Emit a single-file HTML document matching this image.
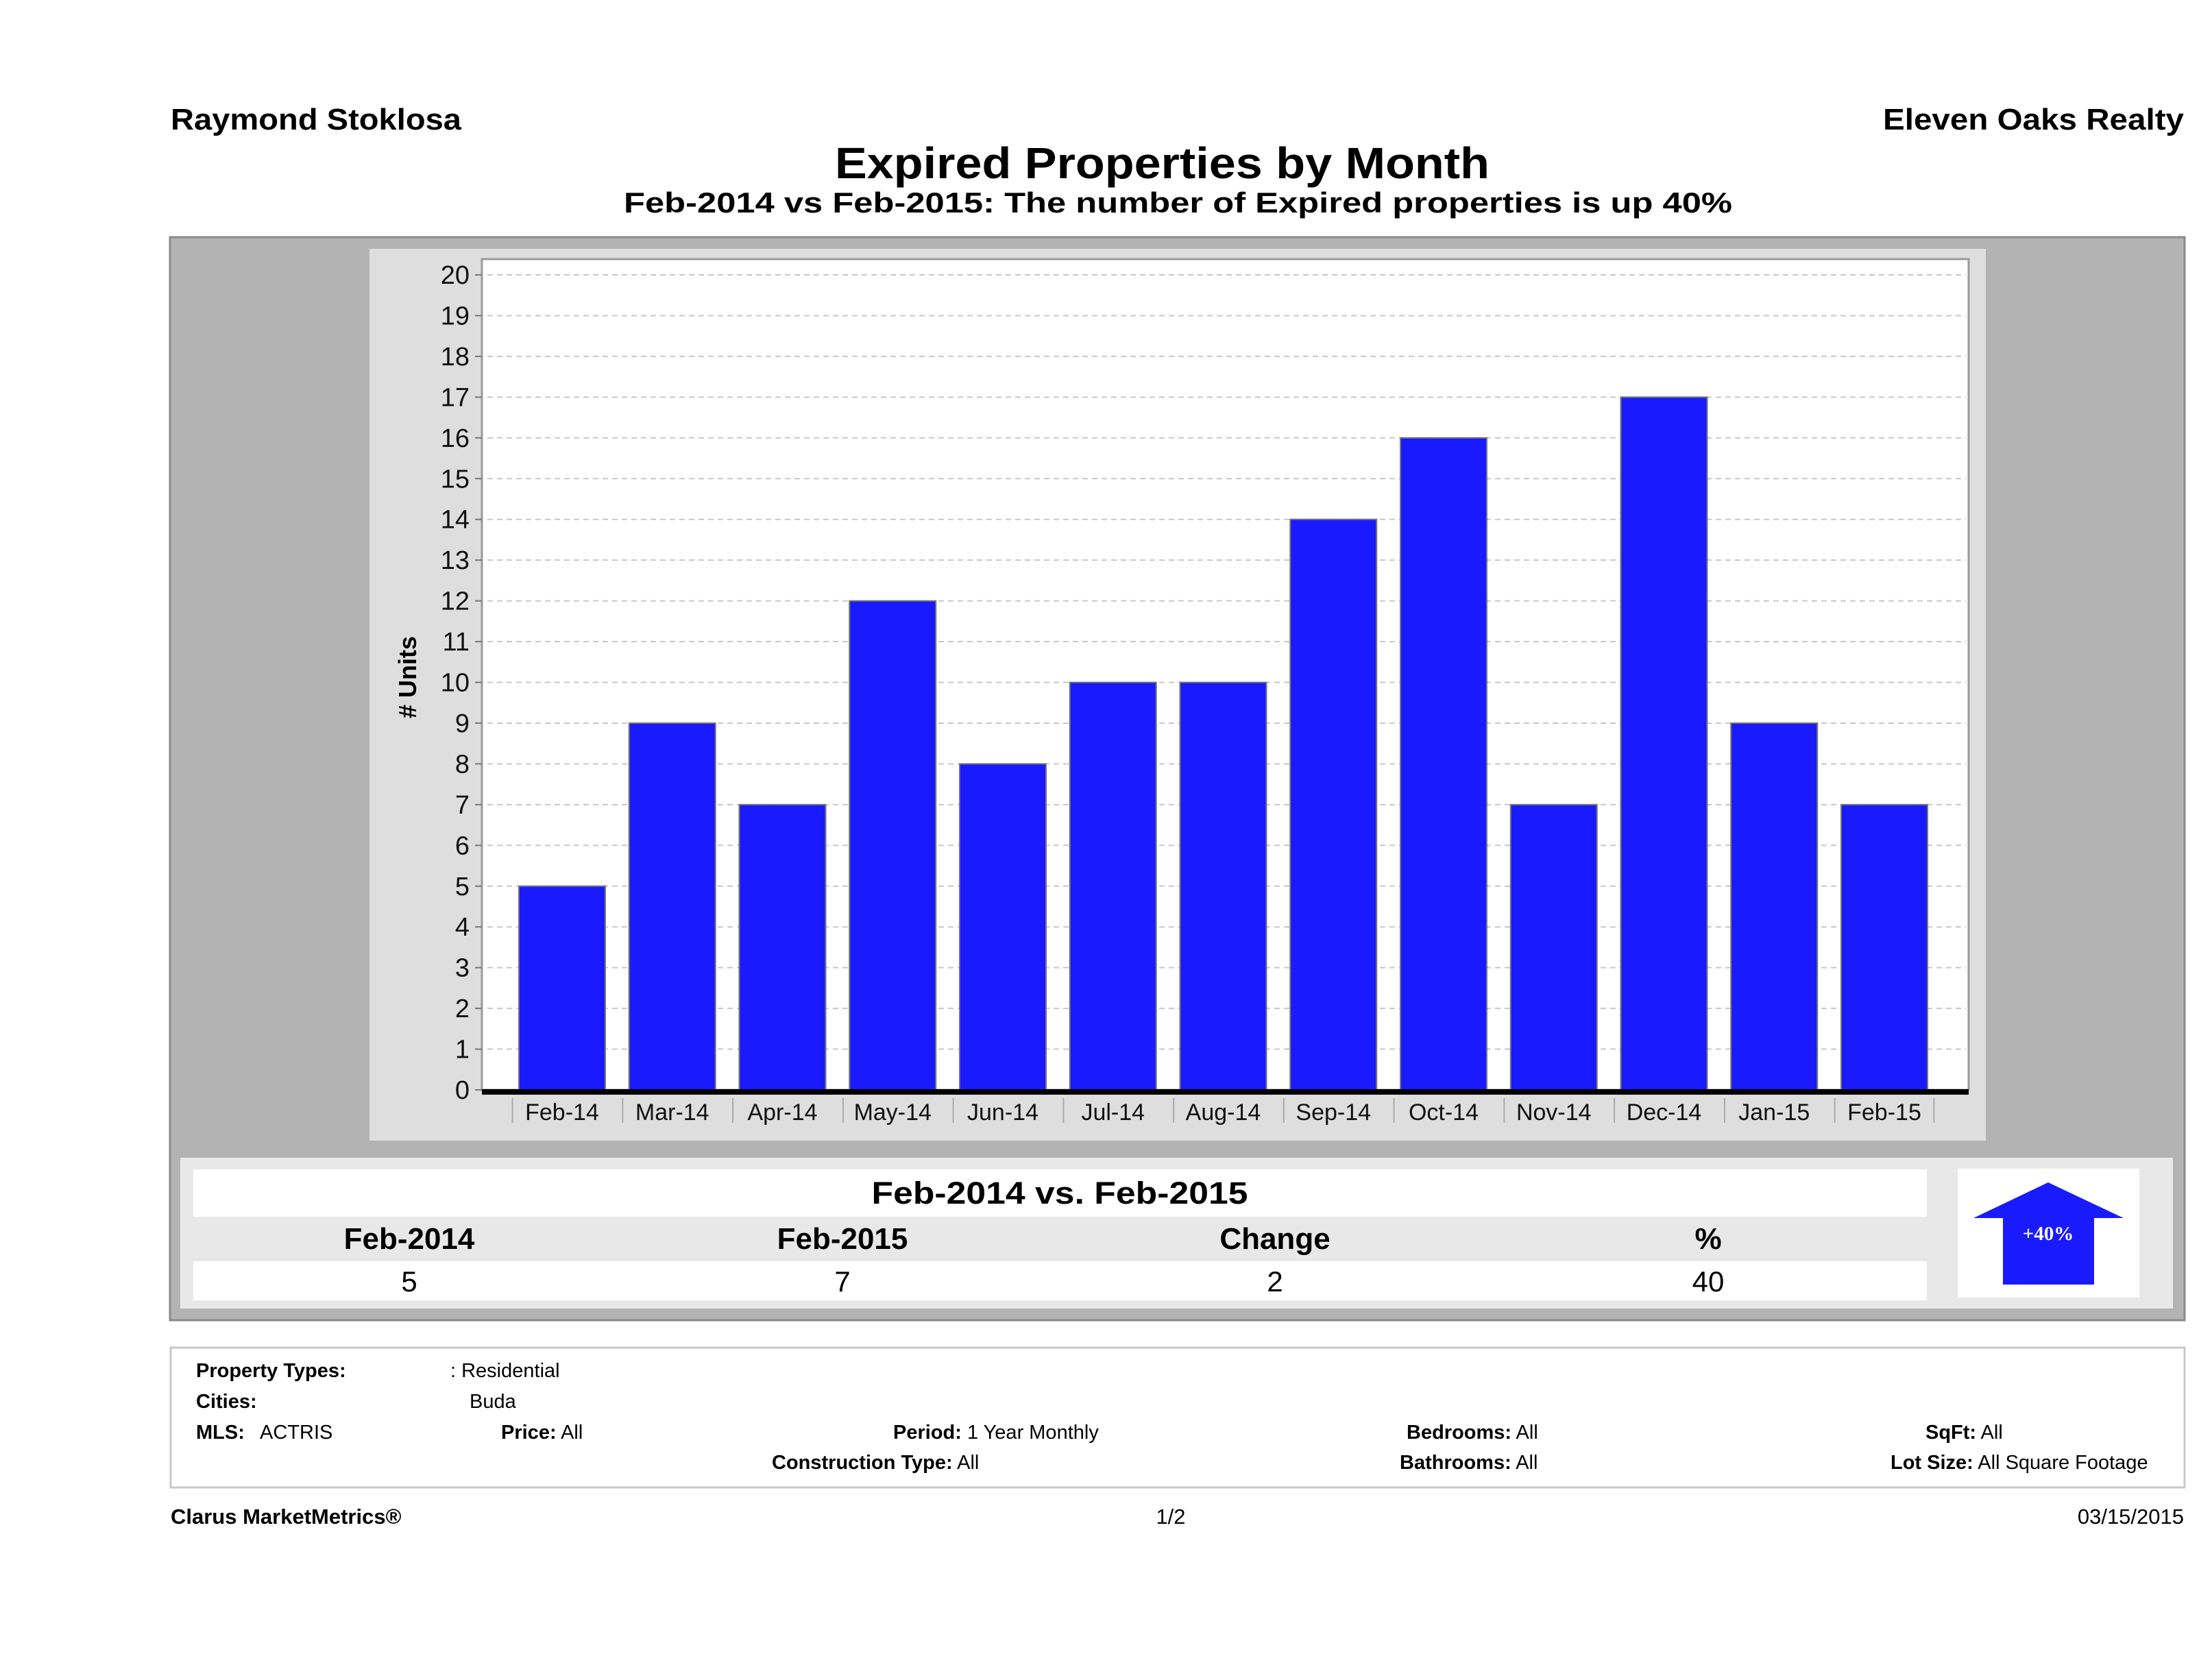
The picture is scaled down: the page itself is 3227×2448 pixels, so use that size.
<!DOCTYPE html>
<html><head><meta charset="utf-8">
<style>
html,body{margin:0;padding:0;background:#fff;}
svg{display:block;font-family:"Liberation Sans Narrow","Liberation Sans","DejaVu Sans Condensed",sans-serif;}
</style></head>
<body>
<svg id="page" width="3227" height="2448" viewBox="0 0 3227 2448" xmlns="http://www.w3.org/2000/svg">
<text x="249" y="189" font-size="44" font-weight="bold" textLength="424" lengthAdjust="spacingAndGlyphs">Raymond Stoklosa</text>
<text x="3186" y="189" font-size="44" font-weight="bold" text-anchor="end" textLength="439" lengthAdjust="spacingAndGlyphs">Eleven Oaks Realty</text>
<text x="1218" y="260" font-size="64" font-weight="bold" textLength="955" lengthAdjust="spacingAndGlyphs">Expired Properties by Month</text>
<text x="910" y="310" font-size="42" font-weight="bold" textLength="1617" lengthAdjust="spacingAndGlyphs">Feb-2014 vs Feb-2015: The number of Expired   properties is up 40%</text>

<rect x="248" y="346" width="2939" height="1580" fill="#b3b3b3" stroke="#8a8a8a" stroke-width="3"/>
<rect x="539" y="363" width="2358" height="1301" fill="#dedede"/>
<rect x="703" y="378" width="2169" height="1212" fill="#fff" stroke="#999" stroke-width="3"/>
<g id="grid"></g>
<g id="bars"></g>
<g id="yticks"></g>
<g id="xticks"></g>
<rect x="703" y="1589" width="2169" height="8" fill="#000"/>
<text transform="translate(607,988) rotate(-90)" font-size="36" font-weight="bold" text-anchor="middle">#  Units</text>

<rect x="263" y="1689" width="2907" height="220" fill="#e8e8e8"/>
<rect x="282" y="1706" width="2529" height="69" fill="#fff"/>
<rect x="282" y="1840" width="2529" height="57" fill="#fff"/>
<text x="1546" y="1756" font-size="45" font-weight="bold" text-anchor="middle" textLength="549" lengthAdjust="spacingAndGlyphs">Feb-2014 vs. Feb-2015</text>
<text x="597" y="1822" font-size="44" font-weight="bold" text-anchor="middle">Feb-2014</text>
<text x="1229" y="1822" font-size="44" font-weight="bold" text-anchor="middle">Feb-2015</text>
<text x="1860" y="1822" font-size="44" font-weight="bold" text-anchor="middle">Change</text>
<text x="2492" y="1822" font-size="44" font-weight="bold" text-anchor="middle">%</text>
<text x="597" y="1884" font-size="42" text-anchor="middle">5</text>
<text x="1229" y="1884" font-size="42" text-anchor="middle">7</text>
<text x="1860" y="1884" font-size="42" text-anchor="middle">2</text>
<text x="2492" y="1884" font-size="42" text-anchor="middle">40</text>
<rect x="2856" y="1705" width="265" height="188" fill="#fff"/>
<polygon points="2988,1725 3098,1777 3055,1777 3055,1874 2922,1874 2922,1777 2879,1777" fill="#1a1aff"/>
<text x="2988" y="1809" font-size="29" font-weight="bold" fill="#fff" text-anchor="middle" font-family="Liberation Serif,serif">+40%</text>

<rect x="249" y="1966" width="2938" height="204" fill="#fff" stroke="#c8c8c8" stroke-width="3"/>
<g font-size="29">
<text x="286" y="2009" font-weight="bold">Property Types:</text>
<text x="657" y="2009">: Residential</text>
<text x="286" y="2054" font-weight="bold">Cities:</text>
<text x="685" y="2054">Buda</text>
<text x="286" y="2099" font-weight="bold">MLS:</text>
<text x="379" y="2099">ACTRIS</text>
<text x="731" y="2099"><tspan font-weight="bold">Price:</tspan> All</text>
<text x="1303" y="2099"><tspan font-weight="bold">Period:</tspan> 1 Year Monthly</text>
<text x="1126" y="2143"><tspan font-weight="bold">Construction Type:</tspan> All</text>
<text x="2052" y="2099"><tspan font-weight="bold">Bedrooms:</tspan> All</text>
<text x="2042" y="2143"><tspan font-weight="bold">Bathrooms:</tspan> All</text>
<text x="2809" y="2099"><tspan font-weight="bold">SqFt:</tspan>  All</text>
<text x="2758" y="2143"><tspan font-weight="bold">Lot Size:</tspan>  All Square Footage</text>
</g>
<text x="249" y="2223" font-size="31" font-weight="bold">Clarus MarketMetrics®</text>
<text x="1708" y="2223" font-size="31" text-anchor="middle">1/2</text>
<text x="3186" y="2223" font-size="31" text-anchor="end">03/15/2015</text>
</svg>
<script>
const categories = ["Feb-14","Mar-14","Apr-14","May-14","Jun-14","Jul-14","Aug-14","Sep-14","Oct-14","Nov-14","Dec-14","Jan-15","Feb-15"];
const values = [5,9,7,12,8,10,10,14,16,7,17,9,7];
const yTicks = [0,1,2,3,4,5,6,7,8,9,10,11,12,13,14,15,16,17,18,19,20];

const NS = "http://www.w3.org/2000/svg";
const plotL = 703, plotR = 2872, y0px = 1590, y20px = 401, yMax = 20;
const firstC = 820, step = 160.75, barW = 126;
function yScale(v){ return y0px - (y0px - y20px) * v / yMax; }
function xScale(i){ return firstC + i * step; }
function mk(tag, attrs, parent){
  const el = document.createElementNS(NS, tag);
  for (const k in attrs) el.setAttribute(k, attrs[k]);
  parent.appendChild(el);
  return el;
}
const grid = document.getElementById('grid');
const yt = document.getElementById('yticks');
yTicks.forEach(t => {
  const y = yScale(t);
  if (t > 0) {
    const g = mk('line', {x1: plotL + 8, x2: plotR - 4, y1: y, y2: y, stroke: '#c8c8c8', 'stroke-width': 2, 'stroke-dasharray': '8,6'}, grid);
    
    
  }
  const tk = mk('line', {x1: plotL - 10, x2: plotL, y1: y, y2: y, stroke: '#777', 'stroke-width': 2}, yt);
  
  
  const lb = mk('text', {x: 685, y: y + 13, 'font-size': 38, 'text-anchor': 'end', fill: '#111'}, yt);
  lb.textContent = t;
  
  
});
const bars = document.getElementById('bars');
const xt = document.getElementById('xticks');
categories.forEach((c, i) => {
  const cx = xScale(i);
  const top = yScale(values[i]);
  const b = mk('rect', {x: cx - barW/2, y: top, width: barW, height: y0px - top, fill: '#1a1aff', stroke: '#777', 'stroke-width': 2}, bars);
  
  
  const sep = mk('line', {x1: cx - step/2 + 8, x2: cx - step/2 + 8, y1: 1602, y2: 1638, stroke: '#aaa', 'stroke-width': 2}, xt);
  
  
  const lb = mk('text', {x: cx, y: 1634, 'font-size': 34, 'text-anchor': 'middle', fill: '#111'}, xt);
  lb.textContent = c;
  
  
});
const last = mk('line', {x1: xScale(categories.length - 1) + step/2 - 8, x2: xScale(categories.length - 1) + step/2 - 8, y1: 1602, y2: 1638, stroke: '#aaa', 'stroke-width': 2}, xt);


</script>
</body></html>
